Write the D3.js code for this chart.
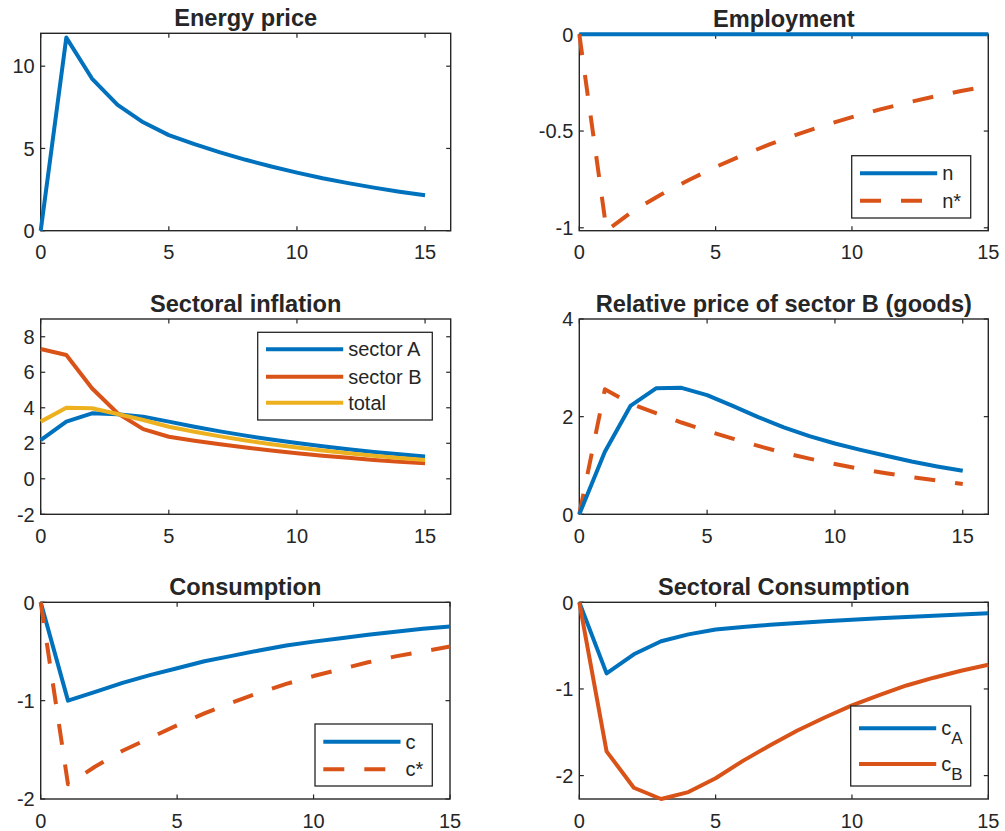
<!DOCTYPE html>
<html>
<head>
<meta charset="utf-8">
<script src="https://cdn.jsdelivr.net/npm/d3@7"></script>
<style>
  body { margin: 0; background: #fff; }
  svg { display: block; }
  text { font-family: "Liberation Sans", Arial, Helvetica, sans-serif; fill: #262626; }
</style>
</head>
<body>
<svg id="chart" width="1005" height="831"></svg>
<script>
// Impulse responses, quarters 0..15
const periods = [0, 1, 2, 3, 4, 5, 6, 7, 8, 9, 10, 11, 12, 13, 14, 15];

const energyPrice    = [0, 11.74, 9.25, 7.65, 6.59, 5.81, 5.26, 4.76, 4.31, 3.90, 3.53, 3.19, 2.89, 2.62, 2.37, 2.15];

const employmentN    = [0, 0, 0, 0, 0, 0, 0, 0, 0, 0, 0, 0, 0, 0, 0, 0];
const employmentNStar = [0, -1.015, -0.91, -0.828, -0.754, -0.686, -0.624, -0.568, -0.517, -0.470, -0.428, -0.389, -0.354, -0.322, -0.293, -0.267];

const inflationA     = [2.18, 3.22, 3.69, 3.63, 3.50, 3.22, 2.93, 2.67, 2.43, 2.21, 2.01, 1.83, 1.66, 1.51, 1.38, 1.25];
const inflationB     = [7.31, 6.97, 5.10, 3.69, 2.80, 2.37, 2.14, 1.94, 1.76, 1.59, 1.44, 1.30, 1.18, 1.06, 0.96, 0.87];
const inflationTotal = [3.22, 4.00, 3.97, 3.65, 3.31, 2.93, 2.65, 2.39, 2.16, 1.95, 1.76, 1.59, 1.44, 1.30, 1.17, 1.06];

const relPriceB      = [0, 1.28, 2.22, 2.58, 2.59, 2.44, 2.22, 1.99, 1.78, 1.60, 1.45, 1.32, 1.20, 1.08, 0.98, 0.89];
const relPriceBStar  = [0, 2.56, 2.27, 2.07, 1.88, 1.71, 1.55, 1.40, 1.26, 1.14, 1.03, 0.93, 0.84, 0.76, 0.69, 0.62];

const consC          = [0, -1.00, -0.91, -0.82, -0.74, -0.67, -0.60, -0.545, -0.49, -0.44, -0.40, -0.365, -0.33, -0.30, -0.27, -0.245];
const consCStar      = [0, -1.85, -1.67, -1.51, -1.38, -1.25, -1.13, -1.02, -0.92, -0.83, -0.75, -0.68, -0.61, -0.55, -0.50, -0.45];

const consCA         = [0, -0.82, -0.60, -0.45, -0.37, -0.315, -0.285, -0.26, -0.24, -0.22, -0.20, -0.185, -0.17, -0.155, -0.14, -0.125];
const consCB         = [0, -1.72, -2.14, -2.27, -2.19, -2.03, -1.83, -1.65, -1.48, -1.33, -1.19, -1.07, -0.96, -0.87, -0.79, -0.72];

const xTickValues = [0, 5, 10, 15];

const BLUE = "#0072BD", ORANGE = "#D95319", YELLOW = "#EDB120", INK = "#262626";

const panels = [
  { title: "Energy price", box: [40.7, 33.3, 450.7, 230.7], xDomain: [0, 16], yDomain: [0, 12], yTicks: [0, 5, 10],
    series: [{ values: energyPrice, color: BLUE }] },
  { title: "Employment", box: [579.3, 34.3, 988.3, 230.7], xDomain: [0, 15], yDomain: [-1.015, 0], yTicks: [-1, -0.5, 0],
    series: [{ values: employmentN, color: BLUE, label: "n" },
             { values: employmentNStar, color: ORANGE, dashed: true, label: "n*" }],
    legend: { x: 851.7, y: 155.7, w: 119, h: 62.3, rows: [17.6, 45] } },
  { title: "Sectoral inflation", box: [40.7, 319, 450.7, 514.3], xDomain: [0, 16], yDomain: [-2, 9], yTicks: [-2, 0, 2, 4, 6, 8],
    series: [{ values: inflationA, color: BLUE, label: "sector A" },
             { values: inflationB, color: ORANGE, label: "sector B" },
             { values: inflationTotal, color: YELLOW, label: "total" }],
    legend: { x: 257.7, y: 332.3, w: 174.6, h: 87.7, rows: [17, 44.4, 70.4] } },
  { title: "Relative price of sector B (goods)", box: [579.3, 319, 988.3, 514.3], xDomain: [0, 16], yDomain: [0, 4], yTicks: [0, 2, 4],
    series: [{ values: relPriceBStar, color: ORANGE, dashed: true },
             { values: relPriceB, color: BLUE }] },
  { title: "Consumption", box: [40.7, 602.3, 450, 799], xDomain: [0, 15], yDomain: [-2, 0], yTicks: [-2, -1, 0],
    series: [{ values: consC, color: BLUE, label: "c" },
             { values: consCStar, color: ORANGE, dashed: true, label: "c*" }],
    legend: { x: 315, y: 724, w: 117.3, h: 62, rows: [17.7, 45.3] } },
  { title: "Sectoral Consumption", box: [579.3, 602.3, 988.3, 799], xDomain: [0, 15], yDomain: [-2.27, 0], yTicks: [-2, -1, 0],
    series: [{ values: consCA, color: BLUE, label: "c", sub: "A" },
             { values: consCB, color: ORANGE, label: "c", sub: "B" }],
    legend: { x: 850.7, y: 706, w: 120, h: 80, rows: [22.3, 58] } }
];

const svg = d3.select("#chart");
const fmt = v => String(v).replace("\u2212", "-");

panels.forEach(p => {
  const [x0, y0, x1, y1] = p.box;
  const x = d3.scaleLinear().domain(p.xDomain).range([x0, x1]);
  const y = d3.scaleLinear().domain(p.yDomain).range([y1, y0]);
  const g = svg.append("g");

  // axes box
  g.append("rect").attr("x", x0).attr("y", y0).attr("width", x1 - x0).attr("height", y1 - y0)
    .attr("fill", "none").attr("stroke", INK).attr("stroke-width", 1.4);

  const tl = 4.5;
  // x ticks (inside, bottom and top) and labels
  xTickValues.forEach(v => {
    const px = x(v);
    g.append("line").attr("x1", px).attr("x2", px).attr("y1", y1).attr("y2", y1 - tl).attr("stroke", INK).attr("stroke-width", 1.2);
    g.append("line").attr("x1", px).attr("x2", px).attr("y1", y0).attr("y2", y0 + tl).attr("stroke", INK).attr("stroke-width", 1.2);
    g.append("text").attr("x", px).attr("y", y1 + 28.5).attr("text-anchor", "middle")
      .attr("font-size", 20).text(fmt(v));
  });
  // y ticks (inside, left and right) and labels
  p.yTicks.forEach(v => {
    const py = y(v);
    g.append("line").attr("x1", x0).attr("x2", x0 + tl).attr("y1", py).attr("y2", py).attr("stroke", INK).attr("stroke-width", 1.2);
    g.append("line").attr("x1", x1).attr("x2", x1 - tl).attr("y1", py).attr("y2", py).attr("stroke", INK).attr("stroke-width", 1.2);
    g.append("text").attr("x", x0 - 6).attr("y", py).attr("dy", "0.36em").attr("text-anchor", "end")
      .attr("font-size", 20).text(fmt(v));
  });

  // title
  g.append("text").attr("x", (x0 + x1) / 2).attr("y", y0 - 7).attr("text-anchor", "middle")
    .attr("font-size", 23.6).attr("font-weight", "bold").attr("fill", "#000").text(p.title);

  // series
  const line = d3.line().x((d, i) => x(periods[i])).y(d => y(d));
  p.series.forEach(s => {
    g.append("path").datum(s.values).attr("d", line)
      .attr("fill", "none").attr("stroke", s.color).attr("stroke-width", 4)
      .attr("stroke-linejoin", "round")
      .attr("stroke-dasharray", s.dashed ? "21,20" : null);
  });

  // legend
  if (p.legend) {
    const L = p.legend;
    const lg = g.append("g");
    lg.append("rect").attr("x", L.x).attr("y", L.y).attr("width", L.w).attr("height", L.h)
      .attr("fill", "#fff").attr("stroke", INK).attr("stroke-width", 1.3);
    p.series.filter(s => s.label).forEach((s, i) => {
      const ry = L.y + L.rows[i];
      lg.append("line").attr("x1", L.x + 8.3).attr("x2", L.x + 85.5).attr("y1", ry).attr("y2", ry)
        .attr("stroke", s.color).attr("stroke-width", 4)
        .attr("stroke-dasharray", s.dashed ? "21,20" : null);
      const t = lg.append("text").attr("x", L.x + 90.5).attr("y", ry + 7).attr("font-size", 20);
      t.append("tspan").text(s.label);
      if (s.sub) t.append("tspan").attr("dy", 9).attr("font-size", 17).text(s.sub);
    });
  }
});
</script>
</body>
</html>
